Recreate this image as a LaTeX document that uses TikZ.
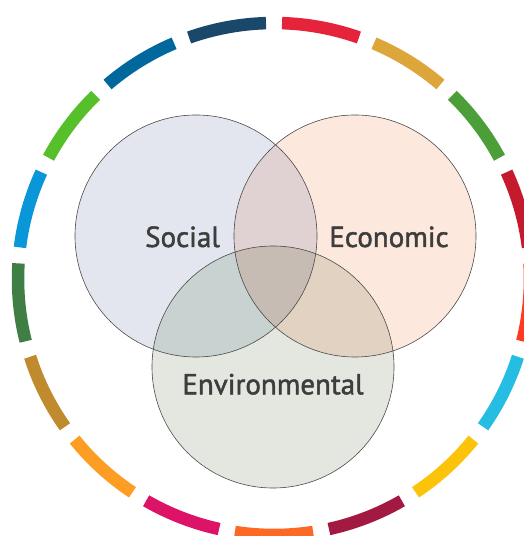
\documentclass[tikz,border=0pt]{standalone}
\usepackage{fontspec}
\setmainfont{PT Sans}
\newfontfamily\labfont{PT Sans}[FakeBold=1.6]
\definecolor{sdga}{HTML}{E5243B}
\definecolor{sdgb}{HTML}{DDA63A}
\definecolor{sdgc}{HTML}{4C9F38}
\definecolor{sdgd}{HTML}{C5192D}
\definecolor{sdge}{HTML}{FF3A21}
\definecolor{sdgf}{HTML}{26BDE2}
\definecolor{sdgg}{HTML}{FCC30B}
\definecolor{sdgh}{HTML}{A21942}
\definecolor{sdgi}{HTML}{FD6925}
\definecolor{sdgj}{HTML}{DD1367}
\definecolor{sdgk}{HTML}{FD9D24}
\definecolor{sdgl}{HTML}{BF8B2E}
\definecolor{sdgm}{HTML}{3F7E44}
\definecolor{sdgn}{HTML}{0A97D9}
\definecolor{sdgo}{HTML}{56C02B}
\definecolor{sdgp}{HTML}{00689D}
\definecolor{sdgq}{HTML}{19486A}
\definecolor{fS}{HTML}{E3E6EF}
\definecolor{fE}{HTML}{FDE8DD}
\definecolor{fN}{HTML}{E4E7E0}
\definecolor{fSE}{HTML}{E0D2D3}
\definecolor{fSN}{HTML}{C8D2D0}
\definecolor{fEN}{HTML}{E1D2C2}
\definecolor{fSEN}{HTML}{C6BCB4}
\definecolor{txt}{HTML}{3C3D3D}
\definecolor{edge}{HTML}{4A4A4A}
\begin{document}
\begin{tikzpicture}[x=1bp,y=1bp,
  ring/.style={line width=12.5bp},
  venn/.style={circle, draw=edge, line width=0.6bp, minimum size=242bp, inner sep=0pt},
  lab/.style={text=txt, font=\labfont\fontsize{29bp}{29bp}\selectfont, anchor=base, inner sep=0pt}]
\useasboundingbox (0,0) rectangle (524,536);
\coordinate (O) at (274,257);
\coordinate (cS) at (196,300);
\coordinate (cE) at (355,300);
\coordinate (cN) at (273,169);
% ring of 17 segments
\foreach \c [count=\k] in {sdga,sdgb,sdgc,sdgd,sdge,sdgf,sdgg,sdgh,sdgi,sdgj,sdgk,sdgl,sdgm,sdgn,sdgo,sdgp,sdgq}{
  \pgfmathsetmacro{\mid}{90-(\k-0.5)*360/17}
  \pgfmathsetmacro{\aa}{\mid+8.79}
  \pgfmathsetmacro{\bb}{\mid-8.79}
  \draw[ring, draw=\c] (O) ++(\aa:256) arc[start angle=\aa, end angle=\bb, radius=256];
}
% base fills
\fill[fS] (cS) circle[radius=121];
\fill[fE] (cE) circle[radius=121];
\fill[fN] (cN) circle[radius=121];
\begin{scope}
  \clip (cS) circle[radius=121];
  \fill[fSE] (cE) circle[radius=121];
  \fill[fSN] (cN) circle[radius=121];
  \clip (cE) circle[radius=121];
  \fill[fSEN] (cN) circle[radius=121];
\end{scope}
\begin{scope}
  \clip (cE) circle[radius=121];
  \clip (cN) circle[radius=121];
  \fill[fEN] (cN) circle[radius=121];
  \clip (cS) circle[radius=121];
  \fill[fSEN] (cN) circle[radius=121];
\end{scope}
% outlines
\node[venn] (social) at (cS) {};
\node[venn] (economic) at (cE) {};
\node[venn] (environmental) at (cN) {};
% labels
\node[lab] (tS) at (182.5,289) {Social};
\node[lab] (tE) at (389,289) {Economic};
\node[lab] (tN) at (273,141.7) {Environmental};
\end{tikzpicture}
\end{document}
